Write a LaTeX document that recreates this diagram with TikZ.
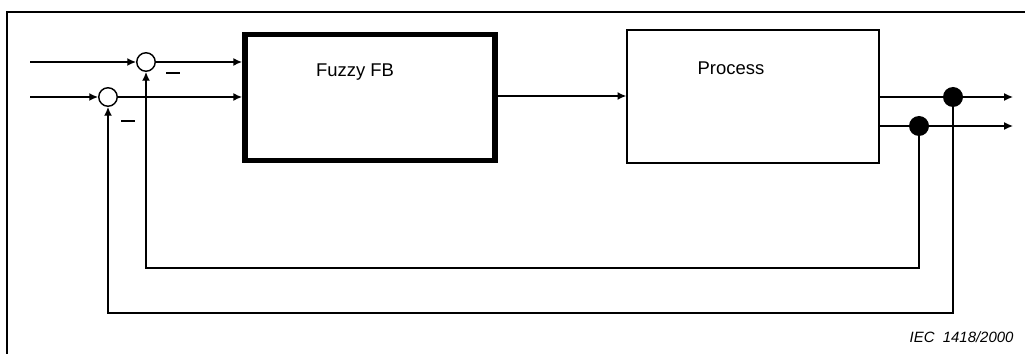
\documentclass[tikz,border=0pt]{standalone}
\usepackage{fontspec}
\setmainfont{Liberation Sans}
\usetikzlibrary{arrows.meta,positioning}

\begin{document}
\begin{tikzpicture}[x=0.02cm,y=-0.02cm,line width=0.8pt,
  arr/.style={-{Latex[length=5pt,width=4.5pt]}},
  sumpt/.style={draw,circle,inner sep=0pt,minimum size=0.37cm},
  tappt/.style={fill,circle,inner sep=0pt,minimum size=0.4cm},
  blk/.style={draw,rectangle,inner sep=0pt},
  lbl/.style={font=\fontsize{10.5}{12}\selectfont},
  minus/.style={inner sep=0pt}]

\useasboundingbox (0,0) rectangle (1025,354);

% frame
\draw[line width=1.1pt] (7,354) -- (7,12) -- (1025,12);

% summing points and blocks
\node[sumpt] (sum1) at (146,62) {};
\node[sumpt] (sum2) at (108,97) {};
\node[blk,line width=3.3pt,minimum width=5.0cm,minimum height=2.52cm] (fuzzy) at (370,97.5) {};
\node[blk,minimum width=5.04cm,minimum height=2.66cm] (process) at (753,96.5) {};
\node[lbl] (fuzzylbl) at (355,72) {Fuzzy FB};
\node[lbl] (proclbl) at (731,68) {Process};

% inputs
\coordinate (in1) at (30,62);
\coordinate (in2) at (30,97);
\draw[arr] (in1) -- (sum1);
\draw[arr] (in2) -- (sum2);
\draw[arr] (sum1) -- (sum1 -| fuzzy.west);
\draw[arr] (sum2) -- (sum2 -| fuzzy.west);
\draw[arr] (fuzzy.east |- 0,96) -- (process.west |- 0,96);

% outputs
\coordinate (out1) at (1013,97);
\coordinate (out2) at (1013,126);
\node[tappt] (tap1) at (953,97) {};
\node[tappt] (tap2) at (919,126) {};
\draw[arr] (process.east |- out1) -- (out1);
\draw[arr] (process.east |- out2) -- (out2);

% feedback
\coordinate (fb1) at (0,313);
\coordinate (fb2) at (0,268);
\draw[arr] (tap1.center) -- (tap1 |- fb1) -| (sum2);
\draw[arr] (tap2.center) -- (tap2 |- fb2) -| (sum1);
\node[minus] (minus1) at (173,73) {\rule{0.28cm}{1.1pt}};
\node[minus] (minus2) at (128,121) {\rule{0.28cm}{1.1pt}};

\node[anchor=east,font=\fontsize{8.5}{10}\selectfont\itshape] (iec) at (1020,337) {IEC\ \ 1418/2000};

\end{tikzpicture}
\end{document}
